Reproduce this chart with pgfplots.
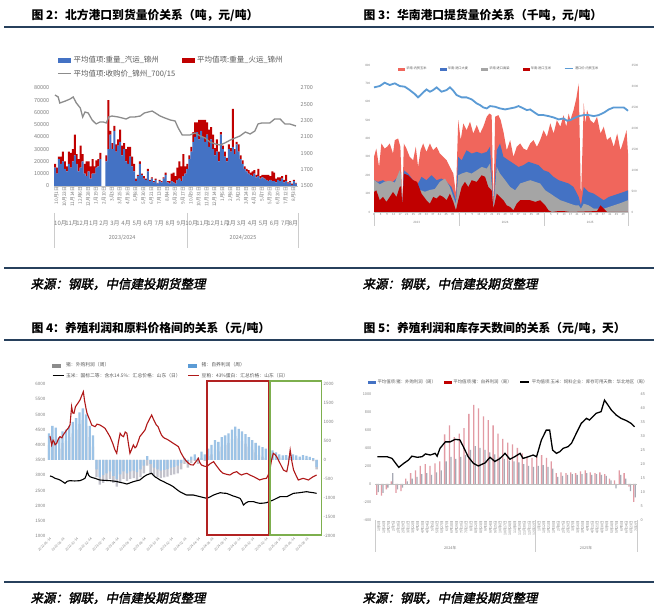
\documentclass[border=0pt]{standalone}
\usepackage{pgfplots}
\pgfplotsset{compat=1.18}
\usepackage{pgfplotstable}
\usepackage{fontspec}
\setmainfont{Noto Sans CJK SC}
\newfontfamily\srcfont[FakeSlant=0.2,FakeBold=2]{Noto Sans CJK SC}

\definecolor{rulec}{HTML}{27405C}
\definecolor{tickc}{HTML}{7F7F7F}
\definecolor{legc}{HTML}{595959}
\definecolor{c2blue}{HTML}{4472C4}
\definecolor{c2red}{HTML}{C00000}
\definecolor{c2gray}{HTML}{8C8C8C}
\definecolor{c3sal}{HTML}{F0665C}
\definecolor{c3blue}{HTML}{4472C4}
\definecolor{c3gray}{HTML}{A5A5A5}
\definecolor{c3dark}{HTML}{C00000}
\definecolor{c3line}{HTML}{5B9BD5}
\definecolor{c4red}{HTML}{B01818}
\definecolor{c4bar}{HTML}{9DC3E6}
\definecolor{c4barleg}{HTML}{5B9BD5}
\definecolor{c4gray}{HTML}{C3C3CC}
\definecolor{c4box}{HTML}{B22222}
\definecolor{c4green}{HTML}{7DAF4E}
\definecolor{c5pink}{HTML}{E29BA4}
\definecolor{c5gray}{HTML}{A7A9B4}
\definecolor{c5blue}{HTML}{4472C4}
\definecolor{c5red}{HTML}{C00000}

\pgfplotsset{
  cb/.style={scale only axis, anchor=south west, axis line style={draw=none},
    major tick length=0pt, tick style={draw=none},
    ticklabel style={text=tickc, inner sep=0.5pt},
    /pgf/number format/assume math mode=true,
    /pgf/number format/1000 sep={},
    scaled y ticks=false, clip=false, legend cell align=left},
}

\pgfplotstableread{
u b r
0 15000 3000
0.25 10000 5000
0.5 22000 2000
0.75 18000 6000
1 20000 8000
1.25 14000 6000
1.5 12000 4000
1.75 18000 10000
2 15000 12000
2.25 20000 10000
2.5 25000 17000
2.75 18000 8000
3 12000 10000
3.25 15000 18000
3.5 20000 6000
3.75 10000 8000
4 8000 12000
4.25 12000 8000
4.5 6000 10000
4.75 10000 12000
5 10000 6000
5.25 15000 6000
5.5 16000 6000
5.75 22000 5000
6 0 0
6.25 0 0
6.5 20000 5000
6.75 30000 40000
7 42000 3000
7.25 30000 5000
7.5 45000 4000
7.75 28000 6000
8 33000 5000
8.25 36000 10000
8.5 25000 8000
8.75 30000 5000
9 20000 10000
9.25 18000 14000
9.5 24000 8000
9.75 16000 8000
10 12000 6000
10.25 4000 2000
10.5 8000 1000
10.75 18000 2000
11 9000 1000
11.25 6000 2000
11.5 5000 1000
11.75 12000 2000
12 4000 1000
12.25 6000 1000
12.5 3000 1000
12.75 5000 1000
13 2000 500
13.25 4000 1000
13.5 3000 1000
13.75 6000 1000
14 9000 2000
14.25 3000 1000
14.5 2000 2000
14.75 4000 6000
15 3000 8000
15.25 2000 6000
15.5 5000 10000
15.75 6000 14000
16 4000 12000
16.25 8000 18000
16.5 10000 6000
16.75 14000 4000
17 22000 3000
17.25 28000 4000
17.5 36000 8000
17.75 40000 12000
18 44000 8000
18.25 38000 16000
18.5 45000 9000
18.75 40000 14000
19 36000 18000
19.25 42000 10000
19.5 32000 14000
19.75 38000 10000
20 30000 12000
20.25 25000 6000
20.5 28000 10000
20.75 20000 8000
21 42000 2000
21.25 30000 3000
21.5 24000 4000
21.75 20000 3000
22 30000 4000
22.25 28000 3000
22.5 32000 31000
22.75 26000 4000
23 34000 2000
23.25 28000 6000
23.5 22000 3000
23.75 18000 3000
24 14000 2000
24.25 12000 2000
24.5 10000 3000
24.75 9000 2000
25 8000 4000
25.25 10000 3000
25.5 7000 2000
25.75 8000 6000
26 6000 2000
26.25 7000 2000
26.5 6000 3000
26.75 5000 4000
27 4000 5000
27.25 5000 3000
27.5 4000 8000
27.75 4000 7000
28 3000 3000
28.25 5000 2000
28.5 4000 3000
28.75 6000 2000
29 3000 2000
29.25 4000 5000
29.5 2000 1000
29.75 3000 1000
30 1000 1000
30.25 4000 1000
30.5 2000 500
}\tabtwo

\pgfplotstableread{
m g b
0 400 700
0.5 600 900
1 550 850
1.5 300 600
2 450 750
2.5 500 800
3 600 900
3.5 700 1000
4 800 1100
4.5 950 1250
5 1050 1360
5.5 900 1200
6 600 900
6.5 350 650
7 -450 -250
7.5 -650 -450
8 -600 -400
8.5 -550 -350
9 -500 -300
9.5 -600 -420
10 -700 -500
10.5 -580 -380
11 -500 -300
11.5 -550 -350
12 -500 -300
12.5 -480 -280
13 -520 -320
13.5 -450 -250
14 -350 -150
14.5 -150 100
15 -350 -100
15.5 -420 -200
16 -450 -250
16.5 -480 -280
17 -460 -260
17.5 -440 -240
18 -400 -200
18.5 -380 -180
19 -350 -150
19.5 -250 -80
20 -100 50
20.5 -200 -30
21 -80 90
21.5 -20 150
22 -100 60
22.5 50 220
23 -20 150
23.5 100 300
24 150 400
24.5 270 520
25 230 480
25.5 350 600
26 400 650
26.5 450 700
27 550 800
27.5 630 880
28 570 820
28.5 500 750
29 430 680
29.5 350 600
30 270 520
30.5 200 450
31 130 380
31.5 90 340
32 50 300
32.5 30 280
33 170 250
33.5 120 200
34 70 150
34.5 40 120
35 50 130
35.5 20 100
36 70 150
36.5 40 120
37 10 90
37.5 50 130
38 30 110
38.5 0 80
39 -30 50
39.5 -250 -180
}\tabfour

\pgfplotstableread{
i p g
0 -120 -90
1 -130 -100
2 -60 -40
3 30 120
4 -100 -60
5 -80 -40
6 60 30
7 120 60
8 150 80
9 200 110
10 220 120
11 200 100
12 230 130
13 250 150
14 550 250
15 650 300
16 520 280
17 560 300
18 620 320
19 780 380
20 880 420
21 840 400
22 750 380
23 710 350
24 650 330
25 560 300
26 500 280
27 460 260
28 440 250
29 400 240
30 340 220
31 300 200
32 290 190
33 300 200
34 320 210
35 290 190
36 250 170
37 120 80
38 130 90
39 120 100
40 130 110
41 120 100
42 140 110
43 150 120
44 130 100
45 120 110
46 130 100
47 110 90
48 60 40
49 40 -50
50 150 100
51 120 60
52 -30 -80
53 -200 -150
}\tabfive

\begin{document}
\begin{tikzpicture}
\useasboundingbox (0pt,0pt) rectangle (654pt,610pt);
\fill[white] (0pt,0pt) rectangle (654pt,610pt);

% titles and rules
\node[anchor=west, font=\fontsize{11.8}{13}\selectfont\bfseries] at (28pt,595pt) {图 2：北方港口到货量价关系（吨，元/吨）};
\node[anchor=west, font=\fontsize{11.8}{13}\selectfont\bfseries] at (360pt,595pt) {图 3：华南港口提货量价关系（千吨，元/吨）};
\node[anchor=west, font=\fontsize{11.8}{13}\selectfont\bfseries] at (28pt,282pt) {图 4：养殖利润和原料价格间的关系（元/吨）};
\node[anchor=west, font=\fontsize{11.8}{13}\selectfont\bfseries] at (360pt,282pt) {图 5：养殖利润和库存天数间的关系（元/吨，天）};
\draw[rulec, line width=2pt] (4pt,583pt) -- (654pt,583pt);
\draw[rulec, line width=2pt] (4pt,342pt) -- (654pt,342pt);
\draw[rulec, line width=2pt] (4pt,270pt) -- (654pt,270pt);
\draw[rulec, line width=2pt] (4pt,28pt) -- (654pt,28pt);
\node[anchor=west, font=\fontsize{12.5}{13}\srcfont] at (27pt,326pt) {来源：钢联，中信建投期货整理};
\node[anchor=west, font=\fontsize{12.5}{13}\srcfont] at (359pt,326pt) {来源：钢联，中信建投期货整理};
\node[anchor=west, font=\fontsize{12.5}{13}\srcfont] at (27pt,12pt) {来源：钢联，中信建投期货整理};
\node[anchor=west, font=\fontsize{12.5}{13}\srcfont] at (359pt,12pt) {来源：钢联，中信建投期货整理};

% ================= Chart 2 =================
\begin{axis}[cb, at={(54pt,424pt)}, width=244pt, height=98pt,
  xmin=-0.13, xmax=30.76, ymin=0, ymax=80000,
  ytick={0,10000,...,80000},
  yticklabel style={font=\fontsize{5.5}{6}\selectfont, xshift=-4pt},
  xtick={0,...,30},
  xticklabels={10月1日,10月23日,11月14日,12月6日,12月28日,1月19日,2月10日,3月3日,3月25日,4月16日,5月8日,5月30日,6月21日,7月13日,8月4日,8月26日,9月17日,10月9日,10月31日,11月22日,12月14日,1月5日,2月8日,3月2日,3月24日,4月15日,5月7日,5月29日,6月20日,7月12日,8月3日},
  xticklabel style={rotate=90, anchor=east, font=\fontsize{4.8}{5}\selectfont, yshift=-1.5pt},
  ybar stacked, bar width=2pt,
  legend style={at={(0.012,1.345)}, anchor=north west, draw=none, fill=none,
    font=\fontsize{7.5}{8}\selectfont, text=legc, legend columns=2,
    /tikz/every even column/.append style={column sep=5pt}, row sep=1.5pt, inner sep=0pt},
]
\addplot[fill=c2blue, draw=none, legend image code/.code={\fill[c2blue] (0pt,-2.3pt) rectangle (13pt,2.3pt);}] table[x=u,y=b]{\tabtwo};
\addlegendentry{平均值项:重量\_汽运\_锦州}
\addplot[fill=c2red, draw=none, legend image code/.code={\fill[c2red] (0pt,-2.3pt) rectangle (13pt,2.3pt);}] table[x=u,y=r]{\tabtwo};
\addlegendentry{平均值项:重量\_火运\_锦州}
\addlegendimage{legend image code/.code={\draw[c2gray, line width=1.4pt] (0pt,0pt) -- (13pt,0pt);}}
\addlegendentry{平均值项:收购价\_锦州\_700/15}
\draw[black!25] (axis cs:-0.13,0) -- (axis cs:30.76,0);
\draw[black!20] (axis cs:-0.13,-22000) -- (axis cs:-0.13,-50600);
\draw[black!20] (axis cs:16.7,-22000) -- (axis cs:16.7,-50600);
\draw[black!20] (axis cs:30.76,-22000) -- (axis cs:30.76,-50600);
\node[font=\fontsize{5.5}{6}\selectfont, text=tickc] at (axis cs:8.5,-42400) {2023/2024};
\node[font=\fontsize{5.5}{6}\selectfont, text=tickc] at (axis cs:23.8,-42400) {2024/2025};
\end{axis}
\begin{axis}[cb, at={(54pt,424pt)}, width=244pt, height=98pt,
  xmin=-0.13, xmax=30.76, ymin=1500, ymax=2700, ytick={1500,1700,...,2700},
  yticklabel pos=right, yticklabel style={font=\fontsize{5.5}{6}\selectfont, anchor=west, xshift=2pt},
  xtick={0.7,2.1,3.5,4.9,6.2,7.6,9.0,10.4,11.8,13.2,14.6,16.0,17.3,18.7,20.1,21.5,22.3,23.6,25.0,26.4,27.8,29.2,30.2},
  xticklabels={10月,11月,12月,1月,2月,3月,4月,5月,6月,7月,8月,9月,10月,11月,12月,1月,2月,3月,4月,5月,6月,7月,8月},
  xticklabel style={font=\fontsize{6}{6}\selectfont, anchor=north, yshift=-34pt},
]
\addplot[c2gray, line width=1.3pt] coordinates {(0,2614) (0.4,2590) (0.6,2516) (1.3,2540) (1.9,2565) (2.3,2590) (2.7,2516) (3.2,2455) (3.5,2345) (3.8,2406) (4.2,2394) (4.7,2308) (5.2,2260) (5.7,2284) (6.1,2284) (6.5,2272) (6.8,2345) (7.2,2357) (8.0,2345) (8.5,2333) (9.0,2320) (9.5,2345) (10.1,2345) (10.8,2357) (11.3,2394) (11.8,2406) (12.3,2418) (12.7,2394) (13.3,2357) (13.9,2333) (14.6,2308) (15.2,2296) (15.6,2210) (16.1,2125) (16.6,2125) (17.1,2125) (17.7,2149) (18.4,2112) (19.0,2088) (19.6,2039) (20.3,2014) (20.9,2002) (21.5,2027) (22.2,2063) (22.8,2088) (23.4,2112) (24.1,2161) (24.7,2137) (25.3,2173) (25.7,2260) (26.2,2272) (27.2,2272) (27.8,2320) (28.5,2320) (29.1,2260) (29.7,2260) (30.5,2235)};
\end{axis}

% ================= Chart 3 =================
\begin{axis}[cb, at={(374pt,398pt)}, width=254pt, height=147pt,
  xmin=0, xmax=155, ymin=0, ymax=800, ytick={0,100,...,800},
  yticklabel style={font=\fontsize{3}{3}\selectfont, xshift=-3pt},
  xtick={0,4,...,152},
  xticklabels={1,5,9,13,17,21,25,29,33,37,41,45,49,1,5,9,13,17,21,25,29,33,37,41,45,49,1,5,9,13,17,21,25,29,33,37,41,45,49},
  xticklabel style={font=\fontsize{2.8}{3}\selectfont, yshift=-1pt},
]
\addplot[fill=c3sal, draw=none] coordinates {(0,300) (1.4,345) (3.1,245) (4.5,373) (6.5,345) (8,355) (9.6,373) (11.6,318) (12.7,391) (14.7,400) (16.1,355) (17.3,45) (18.2,373) (19.8,345) (21.8,300) (23.9,282) (25.5,355) (26.9,245) (28.4,336) (30,373) (32,327) (34.1,373) (36.1,336) (38.2,355) (40.2,318) (42.2,300) (44.3,282) (46.3,245) (48.4,209) (50,100) (51.4,500) (52.9,391) (54.5,482) (56.5,445) (58.6,491) (60.6,427) (62.7,473) (64.7,427) (66.7,464) (68.8,518) (70.4,536) (71.8,527) (72.9,27) (73.9,518) (75.9,527) (77.3,500) (79,436) (81,336) (83.1,391) (85.1,300) (87.1,355) (89.2,373) (91.2,345) (93.3,336) (95.3,373) (97.3,391) (99.4,355) (101.4,391) (103.5,445) (105.5,409) (107.6,482) (109.6,427) (111.6,500) (113.7,464) (115.7,527) (117.3,464) (118.8,536) (119.8,500) (121.8,555) (123.5,620) (124.9,700) (126.3,64) (128,591) (129,482) (130,555) (132,500) (134.1,482) (136.1,518) (138.2,427) (140.2,464) (142.2,391) (144.3,409) (146.3,355) (148.4,427) (150.4,336) (152.4,391) (154.1,445) (155,318)} \closedcycle;
\addplot[fill=c3blue, draw=none] coordinates {(0,173) (2.4,164) (5.5,173) (8.6,155) (11.6,164) (14.7,191) (16.1,200) (17.3,45) (18.2,227) (20.8,209) (23.9,173) (26.3,145) (29,191) (32,173) (35.1,200) (38.2,173) (41.2,182) (44.3,164) (47.3,136) (48.8,100) (50,64) (51.4,300) (53.5,282) (56.5,336) (59.6,318) (62.7,327) (65.7,318) (68.8,327) (70.8,355) (72.9,27) (74.9,336) (76.9,373) (79,300) (82,282) (85.1,264) (88.2,245) (91.2,255) (94.3,273) (97.3,264) (100.4,255) (103.5,227) (106.5,218) (109.6,191) (112.7,173) (115.7,164) (118.8,155) (121.8,136) (124.9,82) (126.3,36) (128,136) (131,109) (134.1,100) (137.1,82) (140.2,64) (143.3,82) (146.3,91) (149.4,100) (152.4,109) (155,118)} \closedcycle;
\addplot[fill=c3gray, draw=none] coordinates {(0,175) (3.5,150) (6.5,165) (9.6,170) (12.7,160) (15.7,227) (16.5,200) (17.3,36) (18.8,209) (21.8,164) (24.9,130) (28,120) (31,110) (34.1,120) (37.1,125) (40.2,164) (43.3,182) (46.3,136) (48.4,82) (50,45) (51.4,200) (53.5,209) (56.5,218) (59.6,209) (62.7,227) (65.7,245) (68.8,236) (70.8,264) (72.9,27) (74.9,245) (76.9,209) (80,173) (83.1,136) (86.1,118) (89.2,155) (92.2,164) (95.3,173) (98.4,164) (101.4,155) (104.5,118) (107.6,100) (110.6,82) (113.7,64) (116.7,55) (119.8,45) (122.9,36) (124.9,36) (126.3,18) (128,45) (131,36) (134.1,18) (137.1,18) (140.2,18) (143.3,27) (146.3,36) (149.4,45) (152.4,55) (155,64)} \closedcycle;
\addplot[fill=c3dark, draw=none] coordinates {(0,109) (1.4,118) (3.5,64) (5.5,82) (7.6,55) (9.6,82) (11.6,109) (13.7,82) (15.7,136) (16.5,140) (17.3,36) (18.2,209) (20.8,200) (23.9,173) (26.3,164) (29,100) (32,64) (34.1,45) (36.1,82) (38.2,73) (40.2,91) (42.2,82) (44.3,64) (46.3,100) (48.4,55) (50,9) (51.4,64) (53.5,136) (55.5,164) (57.6,136) (59.6,173) (62.7,164) (65.7,200) (67.8,191) (69.8,136) (71.8,118) (72.9,18) (74.9,100) (76.9,82) (79,64) (81,36) (83.1,27) (85.1,9) (87.1,45) (89.2,64) (92.2,64) (95.3,64) (98.4,55) (101.4,64) (104.5,36) (106.5,9) (108.6,0) (111.6,4) (115.7,5) (119.8,0) (136.1,5) (138.2,36) (140.2,18) (142.2,0) (155,0)} \closedcycle;
\draw[black!25] (axis cs:0,0) -- (axis cs:155,0);
\draw[black!20] (axis cs:0,0) -- (axis cs:0,-76);
\draw[black!20] (axis cs:52,0) -- (axis cs:52,-76);
\draw[black!20] (axis cs:104,0) -- (axis cs:104,-76);
\draw[black!20] (axis cs:155,0) -- (axis cs:155,-76);
\node[font=\fontsize{3}{3}\selectfont, text=tickc] at (axis cs:26,-56) {2023};
\node[font=\fontsize{3}{3}\selectfont, text=tickc] at (axis cs:80,-56) {2024};
\node[font=\fontsize{3}{3}\selectfont, text=tickc] at (axis cs:132,-56) {2025};
\end{axis}
\begin{axis}[cb, at={(374pt,398pt)}, width=254pt, height=147pt,
  xmin=0, xmax=155, ymin=0, ymax=3500, ytick={0,500,...,3500},
  yticklabel pos=right, yticklabel style={font=\fontsize{3}{3}\selectfont, anchor=west, xshift=3pt},
  xtick=\empty,
  legend style={at={(0.094,0.973)}, anchor=west, draw=none, fill=none,
    font=\fontsize{3.2}{3.5}\selectfont, text=legc, legend columns=5,
    /tikz/every even column/.append style={column sep=11pt}, inner sep=0pt},
]
\addlegendimage{legend image code/.code={\fill[c3sal] (0pt,-1.2pt) rectangle (6pt,1.2pt);}}
\addlegendentry{华南:内贸玉米}
\addlegendimage{legend image code/.code={\fill[c3blue] (0pt,-1.2pt) rectangle (6pt,1.2pt);}}
\addlegendentry{华南:进口大麦}
\addlegendimage{legend image code/.code={\fill[c3gray] (0pt,-1.2pt) rectangle (6pt,1.2pt);}}
\addlegendentry{华南:进口高粱}
\addlegendimage{legend image code/.code={\fill[c3dark] (0pt,-1.2pt) rectangle (6pt,1.2pt);}}
\addlegendentry{华南:进口玉米}
\addplot[c3line, line width=1.8pt, legend image code/.code={\draw[c3line, line width=1pt] (0pt,0pt) -- (8pt,0pt);}] coordinates {(0,2967) (3.5,2999) (6.5,3078) (9.6,3023) (12.7,3063) (15.7,2999) (18.8,2983) (21.8,2903) (24.9,2808) (26.9,2729) (29,2808) (32,2919) (34.1,2864) (36.1,2903) (38.2,2967) (41.2,2864) (44.3,2903) (46.3,2967) (48.4,2888) (50.4,2784) (53.5,2729) (56.5,2729) (59.6,2681) (62.7,2585) (64.7,2546) (66.7,2490) (68.8,2466) (70.8,2522) (73.9,2506) (76.9,2466) (80,2442) (83.1,2466) (86.1,2490) (88.2,2522) (91.2,2466) (93.3,2426) (95.3,2442) (97.3,2387) (100.4,2307) (103.5,2307) (106.5,2283) (109.6,2251) (112.7,2204) (115.7,2228) (117.8,2172) (119.8,2188) (121.8,2228) (124.9,2283) (128,2307) (131,2307) (134.1,2283) (137.1,2307) (140.2,2363) (143.3,2442) (146.3,2490) (149.4,2490) (152.4,2490) (155,2410)};
\addlegendentry{港口价:内贸玉米}
\end{axis}

% ================= Chart 4 =================
\begin{axis}[cb, at={(49pt,74pt)}, width=271pt, height=152pt,
  xmin=0, xmax=40, ymin=-2000, ymax=2000, ytick={-2000,-1500,...,2000},
  yticklabel pos=right, yticklabel style={font=\fontsize{4.5}{5}\selectfont, anchor=west, xshift=3pt},
  xtick=\empty,
]
\addplot[ybar, bar width=2.3pt, bar shift=0pt, fill=c4gray, draw=none] table[x=m,y=g]{\tabfour};
\addplot[ybar, bar width=2.3pt, bar shift=0pt, fill=c4bar, draw=none] table[x=m,y=b]{\tabfour};
\end{axis}
\begin{axis}[cb, at={(49pt,74pt)}, width=271pt, height=152pt,
  xmin=0, xmax=40, ymin=1000, ymax=6000, ytick={1000,1500,...,6000},
  yticklabel style={font=\fontsize{4.5}{5}\selectfont, xshift=-3pt},
  xtick={0,2,...,38},
  xticklabels={2022-06-14,2022-08-14,2022-10-14,2022-12-14,2023-02-14,2023-04-14,2023-06-14,2023-08-14,2023-10-14,2023-12-14,2024-02-14,2024-04-14,2024-06-14,2024-08-14,2024-10-14,2024-12-14,2025-02-14,2025-04-14,2025-06-14,2025-08-14},
  xticklabel style={rotate=45, anchor=north east, font=\fontsize{3.3}{3.5}\selectfont, yshift=-1pt},
  legend style={at={(0.011,1.155)}, anchor=north west, draw=none, fill=none,
    font=\fontsize{4.8}{5}\selectfont, text=legc, legend columns=2,
    /tikz/every even column/.append style={column sep=5pt}, row sep=0.8pt, inner sep=0pt},
]
\addlegendimage{legend image code/.code={\fill[black!45] (0pt,-1.5pt) rectangle (8pt,1.5pt);}}
\addlegendentry{猪：外购利润（周）}
\addlegendimage{legend image code/.code={\fill[c4barleg] (0pt,-1.5pt) rectangle (8pt,1.5pt);}}
\addlegendentry{猪：自养利润（周）}
\addplot[black, line width=1.1pt, legend image code/.code={\draw[black, line width=1pt] (0pt,0pt) -- (11pt,0pt);}] coordinates {(0.15,2974) (0.5,2950) (0.89,2897) (1.3,2870) (1.62,2842) (2.0,2790) (2.36,2732) (2.7,2800) (3.1,2820) (3.8,2810) (4.57,2820) (5.0,2860) (5.3,2897) (5.5,3000) (5.65,3117) (5.85,3000) (6.05,2952) (6.4,2920) (6.8,2897) (7.5,2842) (8.2,2830) (9.0,2820) (9.8,2800) (10.5,2765) (11.0,2740) (11.5,2710) (12.0,2750) (12.45,2787) (13.4,2842) (14.0,2950) (14.4,3007) (14.8,3040) (15.15,3062) (15.6,2952) (16.0,2900) (16.4,2842) (16.9,2790) (17.4,2732) (17.9,2680) (18.35,2622) (18.8,2540) (19.3,2458) (19.8,2400) (20.3,2348) (21.3,2348) (22.3,2293) (23.3,2238) (23.8,2290) (24.3,2348) (24.8,2390) (25.3,2425) (25.7,2410) (26.2,2403) (26.7,2360) (27.2,2315) (27.7,2280) (28.2,2238) (28.45,2150) (28.7,2019) (29.0,2080) (29.4,2129) (30.2,2129) (30.6,2100) (31.1,2074) (31.6,2080) (32.1,2096) (32.6,2140) (33.1,2184) (33.6,2240) (34.1,2293) (35.1,2293) (35.6,2350) (36.1,2403) (37.0,2425) (38.0,2458) (38.5,2440) (39.0,2425) (39.5,2403)};
\addlegendentry{玉米：国标二等：含水14.5\%：汇总价格：山东（日）}
\addplot[c4red, line width=1.1pt, legend image code/.code={\draw[c4red, line width=1pt] (0pt,0pt) -- (11pt,0pt);}] coordinates {(0.15,4290) (0.4,3994) (0.6,4150) (0.74,4103) (0.9,4000) (1.13,4048) (1.4,4200) (1.62,4268) (1.9,4230) (2.1,4323) (2.4,4420) (2.6,4487) (2.85,4550) (3.1,4652) (3.34,5255) (3.5,5050) (3.69,5036) (3.9,5250) (4.08,5310) (4.3,5380) (4.57,5474) (4.8,5600) (5.07,5748) (5.25,5450) (5.46,5200) (5.6,5050) (5.81,4926) (6.05,4800) (6.3,4652) (6.55,4620) (6.8,4597) (7.1,4680) (7.5,4652) (7.9,4600) (8.27,4542) (8.6,4420) (9.0,4268) (9.4,4050) (9.74,3830) (10.0,3720) (10.25,4100) (10.5,4378) (10.75,4300) (11,4268) (11.25,4420) (11.5,4378) (11.75,4000) (11.95,3720) (12.2,3850) (12.45,3994) (12.7,3900) (12.9,3940) (13.15,4100) (13.4,4268) (13.8,4380) (14.17,4487) (14.5,4700) (14.9,4871) (15.15,4981) (15.4,4850) (15.6,4761) (15.85,4650) (16.1,4597) (16.35,4450) (16.6,4323) (16.85,4250) (17.1,4213) (17.35,4190) (17.6,4158) (18.0,4100) (18.35,4048) (18.7,4000) (19.1,3940) (19.45,3750) (19.8,3610) (20.2,3480) (20.6,3391) (20.95,3340) (21.3,3336) (21.7,3450) (22.04,3555) (22.25,3420) (22.5,3336) (22.9,3300) (23.3,3281) (23.8,3380) (24.3,3446) (24.65,3330) (25.0,3227) (25.35,3130) (25.7,3062) (26.2,3030) (26.7,3007) (27.2,3080) (27.7,3117) (28.05,3050) (28.4,3007) (28.8,3040) (29.2,3062) (29.7,3000) (30.2,2952) (30.65,2900) (31.1,2842) (31.6,2880) (32.1,2897) (32.35,3000) (32.6,3172) (32.85,3500) (33.1,3720) (33.35,3680) (33.6,3610) (33.85,3500) (34.1,3391) (34.35,3280) (34.6,3172) (34.85,3140) (35.1,3117) (35.35,3400) (35.6,3830) (35.85,3450) (36.1,3172) (36.45,3000) (36.8,2842) (37.15,2870) (37.5,2897) (37.9,2870) (38.3,2842) (38.65,2900) (39.0,2952) (39.5,3007)};
\addlegendentry{豆粕：43\%蛋白：汇总价格：山东（日）}
\draw[c4box, line width=1.3pt] (axis cs:23.3,1030) rectangle (axis cs:32.45,6100);
\draw[c4green, line width=1.3pt] (axis cs:32.6,1030) rectangle (axis cs:40.2,6100);
\end{axis}

% ================= Chart 5 =================
\begin{axis}[cb, at={(375pt,90pt)}, width=262pt, height=126pt,
  xmin=-0.5, xmax=53.5, ymin=-400, ymax=1000, ytick={-400,-200,...,1000},
  yticklabel style={font=\fontsize{3.8}{4}\selectfont, xshift=-3pt},
  xtick={0,...,53},
  xticklabels={1月5日,1月16日,1月27日,2月7日,2月18日,2月29日,3月11日,3月22日,4月2日,4月13日,4月24日,5月5日,5月16日,5月27日,6月7日,6月18日,6月29日,7月10日,7月21日,8月1日,8月12日,8月23日,9月3日,9月14日,9月25日,10月6日,10月17日,10月28日,11月8日,11月19日,11月30日,12月11日,12月22日,1月3日,1月12日,1月21日,1月30日,2月8日,2月17日,2月26日,3月7日,3月16日,3月25日,4月3日,4月12日,4月21日,4月30日,5月9日,5月18日,5月27日,6月5日,6月14日,6月23日,7月2日},
  xticklabel style={rotate=90, anchor=east, font=\fontsize{3.5}{4}\selectfont, yshift=-1.5pt},
]
\addplot[ybar, bar width=1.3pt, bar shift=-0.75pt, fill=c5pink, draw=none] table[x=i,y=p]{\tabfive};
\addplot[ybar, bar width=1.3pt, bar shift=0.75pt, fill=c5gray, draw=none] table[x=i,y=g]{\tabfive};
\draw[black!25] (axis cs:-0.5,0) -- (axis cs:53.5,0);
\draw[black!20] (axis cs:-0.5,-400) -- (axis cs:-0.5,-755);
\draw[black!20] (axis cs:32.5,-400) -- (axis cs:32.5,-755);
\draw[black!20] (axis cs:53.5,-400) -- (axis cs:53.5,-755);
\node[font=\fontsize{3.8}{4}\selectfont, text=tickc] at (axis cs:15,-711) {2024年};
\node[font=\fontsize{3.8}{4}\selectfont, text=tickc] at (axis cs:43,-711) {2025年};
\end{axis}
\begin{axis}[cb, at={(375pt,90pt)}, width=262pt, height=126pt,
  xmin=-0.5, xmax=53.5, ymin=0, ymax=45, ytick={0,5,...,45},
  yticklabel pos=right, yticklabel style={font=\fontsize{3.8}{4}\selectfont, anchor=west, xshift=3pt},
  xtick=\empty,
  legend style={at={(-0.027,1.095)}, anchor=west, draw=none, fill=none,
    font=\fontsize{4.4}{5}\selectfont, text=legc, legend columns=3,
    /tikz/every even column/.append style={column sep=6pt}, inner sep=0pt},
]
\addlegendimage{legend image code/.code={\fill[c5blue] (0pt,-1.3pt) rectangle (7pt,1.3pt);}}
\addlegendentry{平均值项:猪：外购利润（周）}
\addlegendimage{legend image code/.code={\fill[c5red] (0pt,-1.3pt) rectangle (7pt,1.3pt);}}
\addlegendentry{平均值项:猪：自养利润（周）}
\addplot[black, line width=1.3pt, legend image code/.code={\draw[black, line width=1.1pt] (0pt,0pt) -- (9pt,0pt);}] coordinates {(0,22.6) (2.0,22.6) (3.0,22.0) (4.4,18.8) (5.4,20.2) (6.4,21.4) (7.1,22.8) (8.2,22.4) (9.2,22.6) (9.9,23.6) (10.9,23.2) (11.9,23.8) (12.3,22.8) (12.9,25.6) (14.0,27.9) (15.0,27.9) (16.0,28.8) (17.0,28.6) (17.7,26.2) (18.7,22.6) (19.8,20.2) (20.8,19.3) (22.2,20.4) (23.2,22.4) (24.2,20.9) (25.3,22.0) (26.3,23.8) (27.3,21.7) (28.3,22.6) (29.4,23.8) (30.0,22.0) (31.1,22.6) (32.1,23.2) (32.8,22.6) (33.8,28.6) (34.8,32.1) (35.5,32.1) (36.1,25.0) (36.9,23.8) (37.6,24.4) (38.3,25.6) (39.3,26.2) (40.0,27.4) (41.0,31.0) (42.0,34.5) (43.1,36.3) (43.7,35.7) (44.4,36.9) (45.1,38.1) (46.1,38.7) (46.8,42.8) (47.5,41.1) (48.2,39.3) (49.2,37.5) (50.2,36.3) (51.3,35.5) (52.3,34.5) (53.0,33.3)};
\addlegendentry{平均值项:玉米：饲料企业：库存可用天数：华北地区（周）}
\end{axis}
\end{tikzpicture}
\end{document}
